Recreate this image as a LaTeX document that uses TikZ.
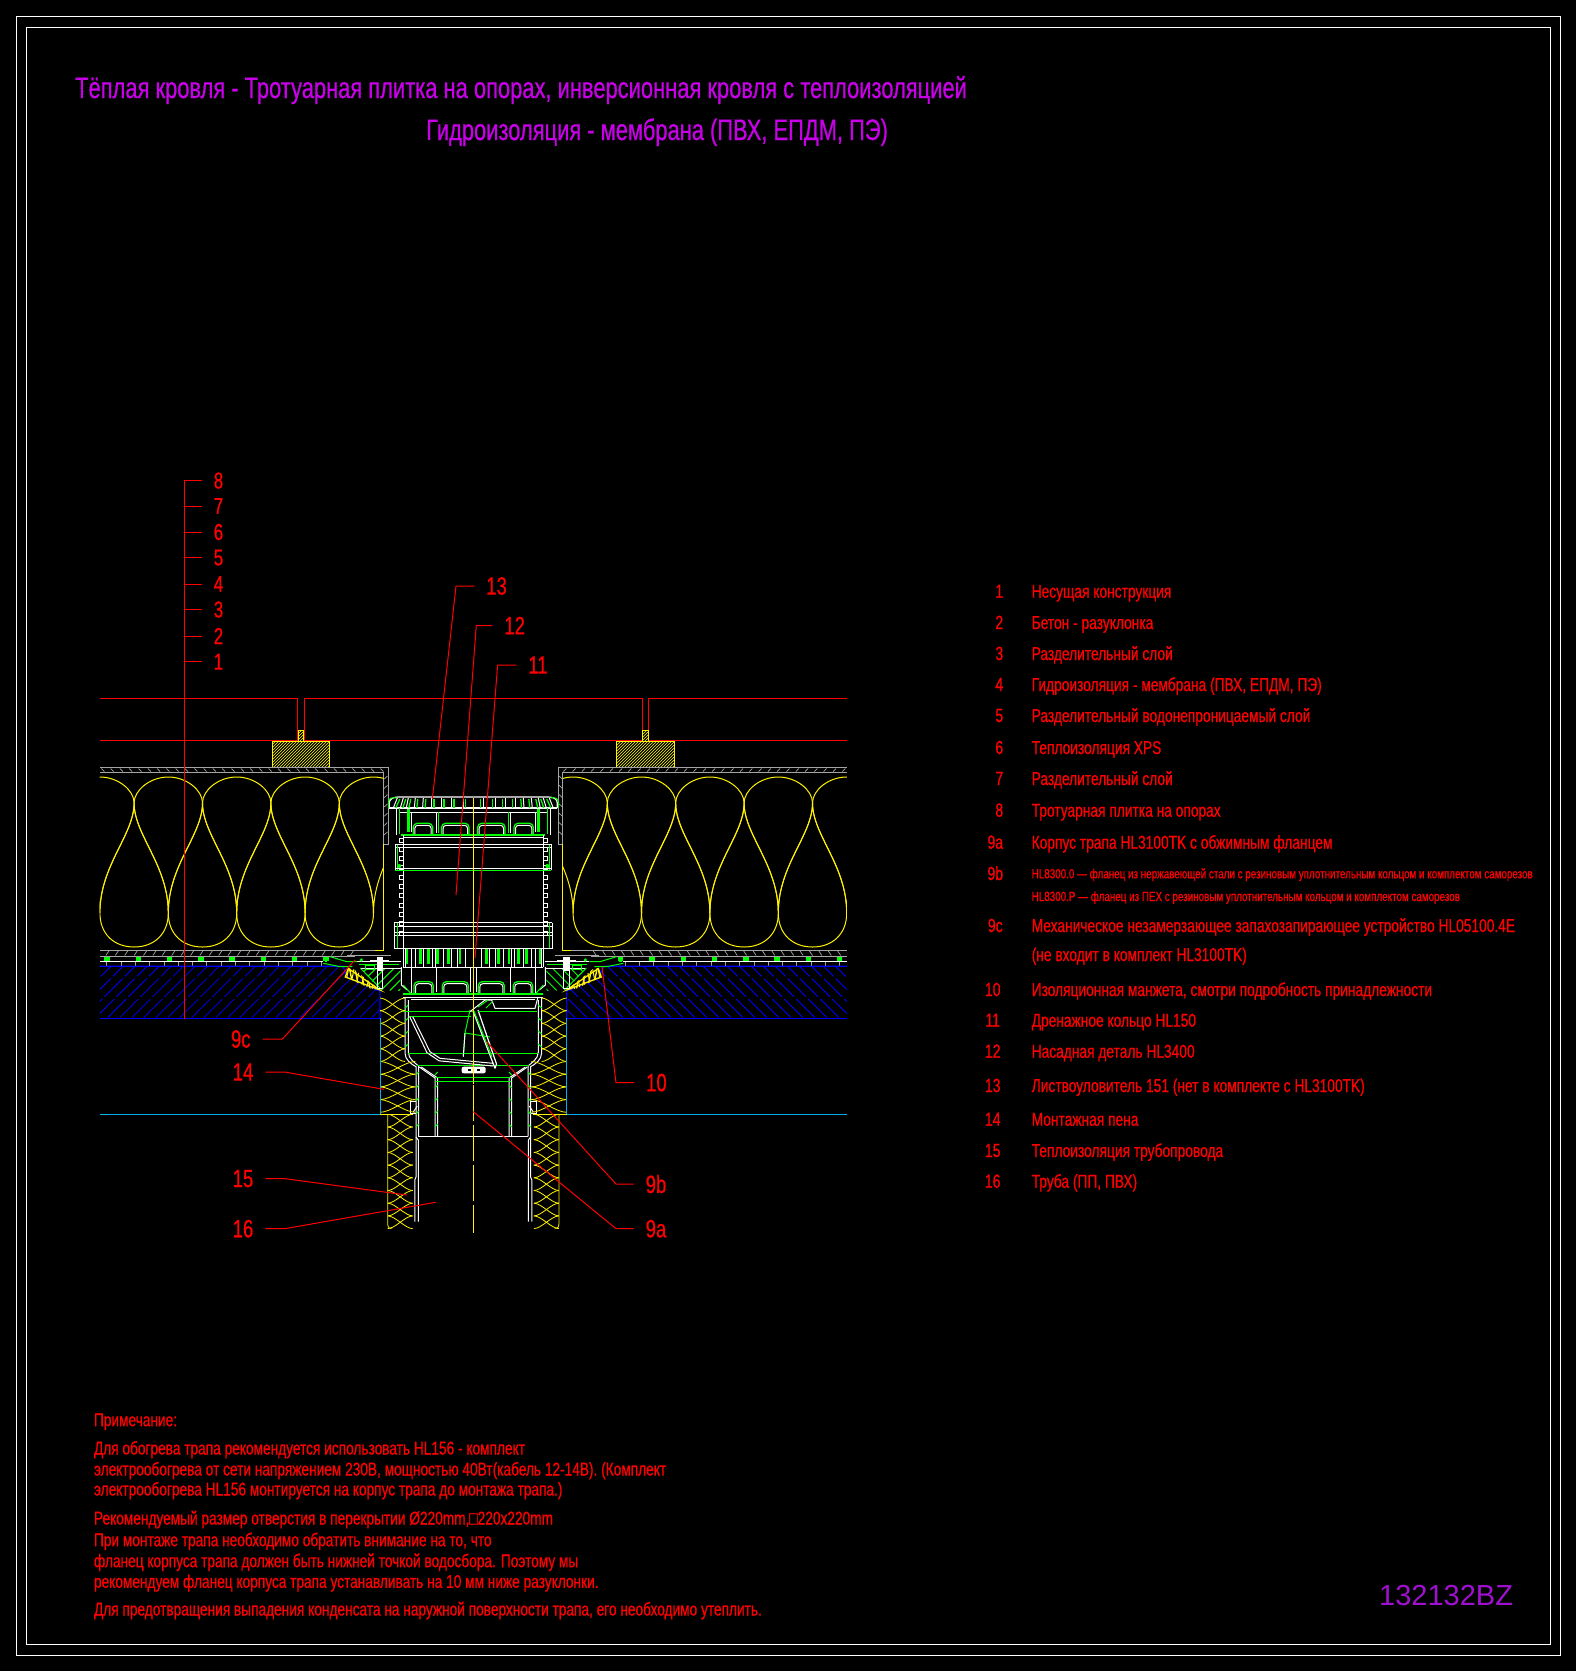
\documentclass[tikz,border=0pt]{standalone}
\usepackage{fontspec}
\newfontfamily\cadfont[FakeStretch=0.74,FakeBold=0.6]{Liberation Sans}
\newfontfamily\stampfont{Liberation Sans}
\usetikzlibrary{patterns,positioning}

\definecolor{cadred}{HTML}{FF0000}
\definecolor{cadgrey}{HTML}{A5A5A5}
\definecolor{cadtitle}{HTML}{C800E8}
\definecolor{cadstamp}{HTML}{A010D0}

\tikzset{
	frameline/.style={draw=white,line width=1pt},
	whiteln/.style={draw=white,line width=1pt},
	greenln/.style={draw=green,line width=1pt},
	yellowln/.style={draw=yellow,line width=1pt},
	greyln/.style={draw=cadgrey,line width=1pt},
	blueln/.style={draw=blue,line width=1.2pt},
	cyanln/.style={draw=cyan,line width=1pt},
	redln/.style={draw=red,line width=1pt},
	leader/.style={draw=red,line width=1pt},
	callno/.style={text=red,inner sep=0pt,outer xsep=12pt,font=\cadfont\fontsize{25}{27}\selectfont},
	levelno/.style={text=red,inner sep=0pt,outer xsep=12pt,font=\cadfont\fontsize{23}{25}\selectfont},
	legendno/.style={text=red,inner sep=0pt,anchor=base,font=\cadfont\fontsize{19}{21}\selectfont},
	legendtx/.style={text=red,inner sep=0pt,anchor=base west,font=\cadfont\fontsize{18.6}{21}\selectfont},
	legendsm/.style={text=red,inner sep=0pt,anchor=base west,font=\cadfont\fontsize{13.3}{16}\selectfont},
	notetx/.style={text=red,inner sep=0pt,anchor=base west,font=\cadfont\fontsize{18.5}{21}\selectfont},
	titletx/.style={text=cadtitle,inner sep=0pt,anchor=base west,font=\cadfont\fontsize{29.6}{32}\selectfont}
}

% one batt drop, belly down / belly up
\newcommand{\dropdown}[1]{
	\draw[yellowln] (#1,803) .. controls (#1,835) and ({#1+34.2},865) .. ({#1+34.2},913)
		.. controls ({#1+34.2},934) and ({#1+20},947) .. (#1,947)
		.. controls ({#1-20},947) and ({#1-34.2},934) .. ({#1-34.2},913)
		.. controls ({#1-34.2},865) and (#1,835) .. (#1,803);
}
\newcommand{\dropup}[1]{
	\draw[yellowln] (#1,913) .. controls (#1,865) and ({#1+34.2},835) .. ({#1+34.2},803)
		.. controls ({#1+34.2},790) and ({#1+18},777) .. (#1,777)
		.. controls ({#1-18},777) and ({#1-34.2},790) .. ({#1-34.2},803)
		.. controls ({#1-34.2},835) and (#1,865) .. (#1,913);
}
% foam column: left x, right x, top y, half periods
\newcommand{\foamcol}[4]{
	\foreach \k in {1,...,#4}{
		\pgfmathsetmacro{\ya}{#3+(\k-1)*12.7}
		\pgfmathsetmacro{\yb}{#3+\k*12.7}
		\pgfmathsetmacro{\qa}{#1+(#2-#1)*0.3}
		\pgfmathsetmacro{\qb}{#1+(#2-#1)*0.7}
		\draw[yellowln,line width=.8pt] (#1,\ya) .. controls (\qa,\ya) and (\qb,\yb) .. (#2,\yb);
		\draw[yellowln,line width=.8pt] (#2,\ya) .. controls (\qb,\ya) and (\qa,\yb) .. (#1,\yb);
	}
}
% arched window of the drain body
\newcommand{\archwin}[4]{
	\draw[greenln,line width=1.3pt,rounded corners=4pt] (#1,#4) -- (#1,#3) -- (#2,#3) -- (#2,#4);
	\draw[whiteln,rounded corners=3pt] ({#1-1.5},#4) -- ({#1-1.5},{#3+2}) -- ({#2+1.5},{#3+2}) -- ({#2+1.5},#4);
}

\begin{document}
\begin{tikzpicture}[x=1pt,y=-1pt]
	\fill[black,use as bounding box] (0,0) rectangle (1576,1671);

	% sheet frames
	\draw[frameline] (16.5,16.5) rectangle (1560.5,1655);
	\draw[frameline] (26.5,27.5) rectangle (1550.3,1644.3);

	\node[titletx] (title1) at (75,98) {Тёплая кровля - Тротуарная плитка на опорах, инверсионная кровля с теплоизоляцией};
	\node[titletx] (title2) at (426,140) {Гидроизоляция - мембрана (ПВХ, ЕПДМ, ПЭ)};

	% everything that is the same on both sides of the drain axis
	\foreach \side in {-1,1}{
	\begin{scope}[shift={(473.3,0)},xscale=\side]
		% paving and pedestal
		\draw[redln] (373.5,698) -- (175.6,698) -- (175.6,740) -- (373.5,740);
		\draw[redln] (0,698) -- (169,698) -- (169,740) -- (0,740);
		\draw[yellowln,pattern=north east lines,pattern color=yellow] (143.6,741.3) rectangle (201,767.7);
		\draw[yellowln,pattern=north east lines,pattern color=yellow] (169.5,730) rectangle (175,741.3);

		% top separating layer
		\draw[greyln] (373.5,767.7) -- (85.2,767.7) -- (85.2,844) -- (89.6,844) -- (89.6,772.3) -- (373.5,772.3);
		\foreach \xx in {90,99.3,...,372}{
			\draw[greyln,line width=.7pt] ({\xx+3},768.5) -- (\xx,771.5);
		}
		\foreach \yy in {776,785.3,...,840}{
			\draw[greyln,line width=.7pt] (85.8,\yy) -- (89,{\yy+3});
		}

		% insulation
		\begin{scope}
			\clip (89.6,770) rectangle (373.6,951);
			\foreach \cc in {134,202.4,270.8,339.2}{\dropdown{\cc}}
			\foreach \cc in {99.8,168.2,236.6,305,373.4}{\dropup{\cc}}
		\end{scope}
		\draw[yellowln] (89.6,844) -- (89.6,950) -- (98.3,950);

		% lower layers
		\draw[greyln] (373.5,950) -- (98,950);
		\draw[greyln] (373.5,956.3) -- (118,956.3);
		\foreach \xx in {120,129.4,...,372}{
			\draw[greyln,line width=.7pt] ({\xx+3},955.5) -- (\xx,951);
		}
		\foreach \xx in {147.3,178.6,...,370}{
			\fill[green] ({\xx-2.7},957) rectangle ({\xx+2.7},960.5);
			\fill[green] ({\xx-1.2},960.5) rectangle ({\xx+1.2},962);
		}
		\draw[whiteln] (373.5,961.7) -- (150,961.7);
		\foreach \xx in {152,166.3,...,372}{
			\draw[greyln] (\xx,962) -- (\xx,965.5);
		}

		% concrete screed
		\begin{scope}
			\clip (373.6,966.3) -- (130.3,966.3) -- (97.6,990) -- (93.3,990.7) -- (93.3,1018.3) -- (373.6,1018.3) -- cycle;
			\foreach \xx in {30,42,...,390}{
				\draw[blueln,line width=.8pt,dash pattern=on 26pt off 3pt] (\xx,958) -- ({\xx+66},1024);
			}
		\end{scope}
		\draw[blueln] (373.5,966.3) -- (130.3,966.3) -- (126,977) -- (97.6,989.5) -- (93.3,990.7) -- (93.3,1018.3);
		\draw[blueln] (93.3,1018.3) -- (373.5,1018.3);

		% clamped flange
		\begin{scope}
			\clip (121,968) -- (93.3,990) -- (103,988.5) -- (128,977) -- (125,968.5) -- cycle;
			\foreach \xx in {80,85.5,...,130}{
				\draw[yellow,line width=1.4pt] (\xx,995) -- ({\xx+6},965);
				\draw[yellow,line width=1pt] ({\xx+6},995) -- (\xx,965);
			}
		\end{scope}
		\draw[yellowln,line width=1.3pt] (125,968.5) -- (93.3,990) -- (128,977) -- cycle;
		\begin{scope}
			\clip (113,968) -- (73,968) -- (73,991) -- (93.3,990) -- cycle;
			\foreach \xx in {30,39,...,130}{
				\draw[greenln] (\xx,964) -- ({\xx+36},1000);
			}
		\end{scope}
		\draw[greenln] (113,968) -- (93.3,988);
		\draw[greenln] (143,956.7) -- (126.6,961.7) -- (116,961.7);
		\draw[greenln] (150,963.3) -- (133,966.7) -- (121,966.7);
		\draw[greyln] (126,955) -- (82,955);
		\draw[whiteln] (116,961.7) -- (72,961.7);
		\draw[whiteln] (112,968) -- (72,968);
		\draw[greenln] (114,964) -- (74,964);
		\draw[greenln] (108,969) rectangle (99,965);
		\fill[white] (90,957) rectangle (96.5,970);
		\fill[white] (84,959.5) rectangle (103,962);
		\draw[whiteln] (90.5,970) rectangle (96,988);
		\fill[green] (112,960) circle (1.8);

		% leaf guard
		\draw[whiteln,line width=1.2pt] (84,808) -- (0,808);
		\draw[whiteln,line width=1.2pt] (84,808) -- (84,803) .. controls (84,799) and (80,797) .. (75,797) -- (0,797);
		\draw[greenln] (85,808) -- (85,802) .. controls (85,798) and (81,797) .. (76,798);
		\foreach \dd/\ee in {80/76,73/70,67/65,59/58,50.7/50,41.7/41.7,31.7/31.7,21.7/21.7,10/10}{
			\draw[whiteln] (\dd,808) -- (\ee,798);
			\draw[greenln,line width=1.3pt] ({\dd-2.5},808) -- ({\ee-2.5},799);
		}

		% upper body
		\draw[whiteln] (76.7,808) -- (76.7,835);
		\draw[whiteln] (74,812) -- (0,812);
		\draw[greenln] (74,808) -- (74,834);
		\draw[greenln,line width=3pt] (65,809) -- (65,832);
		\draw[whiteln] (62,812) -- (62,832);
		\draw[whiteln] (37,812) -- (37,833);
		\draw[greenln] (35,812) -- (35,833);
		\archwin{60}{40.7}{823.3}{835}
		\archwin{31.7}{4.3}{823.3}{835}
		\draw[greenln,line width=1.6pt] (72,835) -- (0,835);
		\draw[whiteln] (70,837) -- (0,837);

		% extension
		\draw[whiteln] (70,835) -- (70,948);
		\draw[whiteln] (78,844.3) -- (0,844.3);
		\draw[whiteln] (78,847) -- (0,847);
		\draw[whiteln] (78,844.3) -- (78,870);
		\draw[greenln] (76,845) -- (76,870);
		\draw[greenln] (78,870.5) -- (0,870.5);
		\draw[whiteln] (78,868.3) -- (0,868.3);
		\foreach \yy in {838,847.3,...,940}{
			\draw[whiteln] (70,\yy) -- (74,\yy) -- (74,{\yy+4}) -- (70,{\yy+4});
		}
		\fill[green] (74,866) circle (2);
		\draw[whiteln] (79,922.7) -- (0,922.7);
		\draw[whiteln] (79,926) -- (0,926);
		\draw[whiteln] (79,932.7) -- (0,932.7);
		\draw[whiteln] (79,935) -- (0,935);
		\draw[whiteln] (79,922.7) -- (79,948) -- (0,948);
		\draw[greenln] (76,923) -- (76,948);

		% slotted ring
		\foreach \dd in {68,62,58,50,41,38,30,22,16,8}{
			\draw[whiteln] (\dd,948) -- (\dd,967);
		}
		\foreach \dd in {66.5,53,45,35.7,25,13.3}{
			\draw[greenln,line width=2.6pt] (\dd,949) -- (\dd,964);
		}
		\draw[whiteln,line width=1.2pt] (70,967.3) -- (0,967.3);
		\draw[whiteln] (70,948) -- (70,967.3);

		% lower body
		\draw[whiteln] (72,967) -- (72,985) -- (66,990);
		\draw[whiteln] (61.7,967) -- (61.7,995);
		\draw[whiteln] (36.7,967) -- (36.7,992);
		\draw[whiteln] (3,967) -- (3,992);
		\archwin{59.3}{40}{981.7}{993}
		\archwin{31}{5}{981.7}{993}
		\draw[greenln,line width=1.4pt] (70,994) -- (0,994);
		\draw[whiteln] (70,997) -- (0,997);
		\draw[whiteln] (62,999.5) -- (0,999.5);
		\draw[greenln] (70,985) -- (62,994);

		% body wall and pipe
		\draw[whiteln] (68.3,997) -- (68.3,1053) .. controls (68.3,1060) and (62,1064) .. (57.3,1066.7) -- (57.3,1113) -- (57.3,1137) -- (55,1140) -- (55,1221.7);
		\draw[whiteln] (65,1000) -- (65,1052) .. controls (65,1059) and (58,1063) .. (54.7,1066) -- (54.7,1136.3);
		\draw[whiteln] (54,1067) -- (38.3,1078) -- (38.3,1136);
		\draw[whiteln] (52,1067) -- (35.7,1078) -- (35.7,1136);
		\draw[whiteln] (58.5,1221.7) -- (58.5,1180) -- (57.3,1177) -- (57.3,1137);
		\foreach \yy in {1005,1018,...,1050}{
			\draw[greenln] (65,\yy) -- (68.3,{\yy+3});
		}
		\foreach \yy in {1072,1085,...,1135}{
			\draw[greenln] (54.7,\yy) -- (57.3,{\yy+3});
			\draw[greenln] (35.7,\yy) -- (38.3,{\yy+3});
		}
		\draw[whiteln] (55,1136.3) -- (0,1136.3);
		\draw[whiteln] (57.3,1101.7) -- (63,1101.7) -- (63,1113.3) -- (57.3,1113.3);
		\draw[whiteln] (56,1106) -- (60,1112);
		\draw[greenln] (65,1053) -- (0,1053);
		\draw[greenln] (56,1065) -- (0,1065);
		\draw[greenln] (38,1077.7) -- (0,1077.7);
		\draw[greenln] (38,1081) -- (0,1081);

		% foam and pipe insulation
		\foamcol{68.3}{93.3}{998}{5}
		\foamcol{58}{93.3}{1061.5}{4}
		\foamcol{60.6}{85.6}{1114.3}{9}
		\draw[yellowln,line width=.8pt] (85.6,1114.3) -- (85.6,1224) .. controls (85.6,1227) and (84,1229) .. (81,1228);
		\draw[cyanln] (93.3,1018.3) -- (93.3,1114.3) -- (373.5,1114.3);
		\draw[yellowln] (60,1114.3) -- (93.3,1114.3);
	\end{scope}
	}

	% trap, not symmetric
	\draw[greenln] (403,1011.7) -- (473,1011.7);
	\draw[greenln] (409,1016) -- (471,1016);
	\draw[whiteln] (412.7,1016.7) -- (430,1051.7) -- (440,1058.3) -- (493,1063.3);
	\draw[whiteln] (409.7,1016.7) -- (427,1052.7) -- (439,1060.8) -- (493,1066);
	\draw[greenln] (470,1010) -- (465,1033) -- (463.3,1056.7);
	\draw[whiteln] (465,1033) -- (463.3,1056.7);
	\draw[greenln] (465,1033) -- (490,1037);
	\draw[whiteln,line width=1.2pt] (473.3,1011.7) -- (495,1068.3);
	\draw[whiteln,line width=1.2pt] (478,1010) -- (496.5,1064) -- (495,1068.3);
	\draw[greenln] (474,1011) -- (492,1057);
	\draw[whiteln] (470,1011.7) -- (485,1000) -- (491.7,1000) -- (495,1008.3) -- (535,1008.3) -- (538,997);
	\draw[greenln] (478,1007) -- (488,1000);
	\draw[greenln] (486,1008) -- (493,1001);
	\draw[greenln] (478,1011) -- (537,1011);
	\fill[white,rounded corners=2pt] (461.7,1066.7) rectangle (485.7,1073.3);
	\fill[black] (468,1068.8) rectangle (471,1071.2);
	\fill[black] (477,1068.8) rectangle (480,1071.2);

	% axis
	\draw[yellowln] (473.3,798) -- (473.3,1084);
	\draw[yellowln,line width=1.2pt,dash pattern=on 36pt off 4pt] (473.3,1085) -- (473.3,1233);

	% levels on the left
	\coordinate (stemtop) at (184.3,479.5);
	\coordinate (stembot) at (184.3,1019);
	\draw[redln,line width=1.1pt] (stemtop) -- (stembot);
	\foreach \nm/\yy in {8/480.6,7/506,6/532,5/557.6,4/584,3/609.5,2/636,1/661.7}{
		\node[levelno] (lev\nm) at (218.5,\yy) {\nm};
		\coordinate (stem\nm) at (184.3,\yy);
		\draw[leader] (lev\nm.west) -- (stem\nm);
	}

	% callouts
	\node[callno] (call13) at (496.6,586) {13};
	\coordinate (bend13) at (456,586);
	\coordinate (tip13) at (432.3,799.3);
	\draw[leader] (call13.west) -- (bend13) -- (tip13);

	\node[callno] (call12) at (514.7,625.5) {12};
	\coordinate (bend12) at (476.3,625.5);
	\coordinate (tip12) at (456,895);
	\draw[leader] (call12.west) -- (bend12) -- (tip12);

	\node[callno] (call11) at (538,665) {11};
	\coordinate (bend11) at (497.6,665);
	\coordinate (tip11) at (475,958);
	\draw[leader] (call11.west) -- (bend11) -- (tip11);

	\node[callno] (call9c) at (240.8,1039) {9c};
	\coordinate (bend9c) at (282.4,1039);
	\coordinate (tip9c) at (355,960);
	\draw[leader] (call9c.east) -- (bend9c) -- (tip9c);

	\node[callno] (call14) at (243,1072) {14};
	\coordinate (bend14) at (284.5,1072);
	\coordinate (tip14) at (384,1089.3);
	\draw[leader] (call14.east) -- (bend14) -- (tip14);

	\node[callno] (call15) at (243,1178.6) {15};
	\coordinate (bend15) at (284.5,1178.6);
	\coordinate (tip15) at (406.7,1195);
	\draw[leader] (call15.east) -- (bend15) -- (tip15);

	\node[callno] (call16) at (243,1228.7) {16};
	\coordinate (bend16) at (284.5,1228.7);
	\coordinate (tip16) at (435.7,1202.3);
	\draw[leader] (call16.east) -- (bend16) -- (tip16);

	\node[callno] (call10) at (656.4,1082.6) {10};
	\coordinate (bend10) at (616,1082.6);
	\coordinate (tip10) at (602,967);
	\draw[leader] (call10.west) -- (bend10) -- (tip10);

	\node[callno] (call9b) at (656,1184) {9b};
	\coordinate (bend9b) at (616,1184);
	\coordinate (tip9b) at (486.7,1041.7);
	\draw[leader] (call9b.west) -- (bend9b) -- (tip9b);

	\node[callno] (call9a) at (656,1228.7) {9a};
	\coordinate (bend9a) at (616,1228.7);
	\coordinate (tip9a) at (473.3,1111.7);
	\draw[leader] (call9a.west) -- (bend9a) -- (tip9a);

	% legend
	\foreach \nm/\xx/\yy/\tx in {
		1/999.3/597.7/{Несущая конструкция},
		2/999.3/629/{Бетон - разуклонка},
		3/999.3/660/{Разделительный слой},
		4/999.3/691/{Гидроизоляция - мембрана (ПВХ, ЕПДМ, ПЭ)},
		5/999.3/722/{Разделительный водонепроницаемый слой},
		6/999.3/754/{Теплоизоляция XPS},
		7/999.3/785/{Разделительный слой},
		8/999.3/816.7/{Тротуарная плитка на опорах},
		9a/995.3/848.7/{Корпус трапа HL3100TK с обжимным фланцем},
		9c/995.3/932/{Механическое незамерзающее запахозапирающее устройство HL05100.4E},
		10/992.7/996/{Изоляционная  манжета, смотри подробность принадлежности},
		11/992.7/1026.7/{Дренажное кольцо HL150},
		12/992.7/1057.7/{Насадная деталь HL3400},
		13/992.7/1092/{Листвоуловитель 151 (нет в комплекте с HL3100TK)},
		14/992.7/1125.7/{Монтажная пена},
		15/992.7/1157/{Теплоизоляция трубопровода},
		16/992.7/1187.7/{Труба (ПП, ПВХ)}}{
		\node[legendno] (num\nm) at (\xx,\yy) {\nm};
		\node[legendtx] (txt\nm) at (1031.5,\yy) {\tx};
	}
	\node[legendno] (num9b) at (995.3,880) {9b};
	\node[legendsm] (txt9b) at (1031.5,878.3) {HL8300.0 — фланец из нержавеющей стали с резиновым уплотнительным кольцом и комплектом саморезов};
	\node[legendsm] (txt9bb) at (1031.5,901) {HL8300.P — фланец из ПЕХ с резиновым уплотнительным кольцом и комплектом саморезов};
	\node[legendtx] (txt9cc) at (1031.5,961) {(не входит в комплект HL3100TK)};

	% notes
	\foreach \nm/\yy/\tx in {
		1/1426.2/{Примечание:},
		2/1454.5/{Для обогрева трапа рекомендуется использовать HL156 - комплект},
		3/1475.5/{электрообогрева от сети напряжением 230В, мощностью 40Вт(кабель 12-14В). (Комплект},
		4/1495.5/{электрообогрева HL156 монтируется на корпус трапа до монтажа трапа.)},
		5/1524.5/{Рекомендуемый размер отверстия в перекрытии Ø220mm,□220x220mm},
		6/1546.2/{При монтаже трапа необходимо обратить внимание на то, что},
		7/1567.2/{фланец корпуса трапа должен быть нижней точкой водосбора. Поэтому мы},
		8/1587.8/{рекомендуем фланец корпуса трапа устанавливать на 10 мм ниже разуклонки.},
		9/1615.5/{Для предотвращения выпадения конденсата на наружной поверхности трапа, его необходимо утеплить.}}{
		\node[notetx] (note\nm) at (93.8,\yy) {\tx};
	}

	\node[inner sep=0pt,anchor=west,text=cadstamp,font=\stampfont\fontsize{29}{31}\selectfont] (stamp) at (1379,1595) {132132BZ};
\end{tikzpicture}
\end{document}
